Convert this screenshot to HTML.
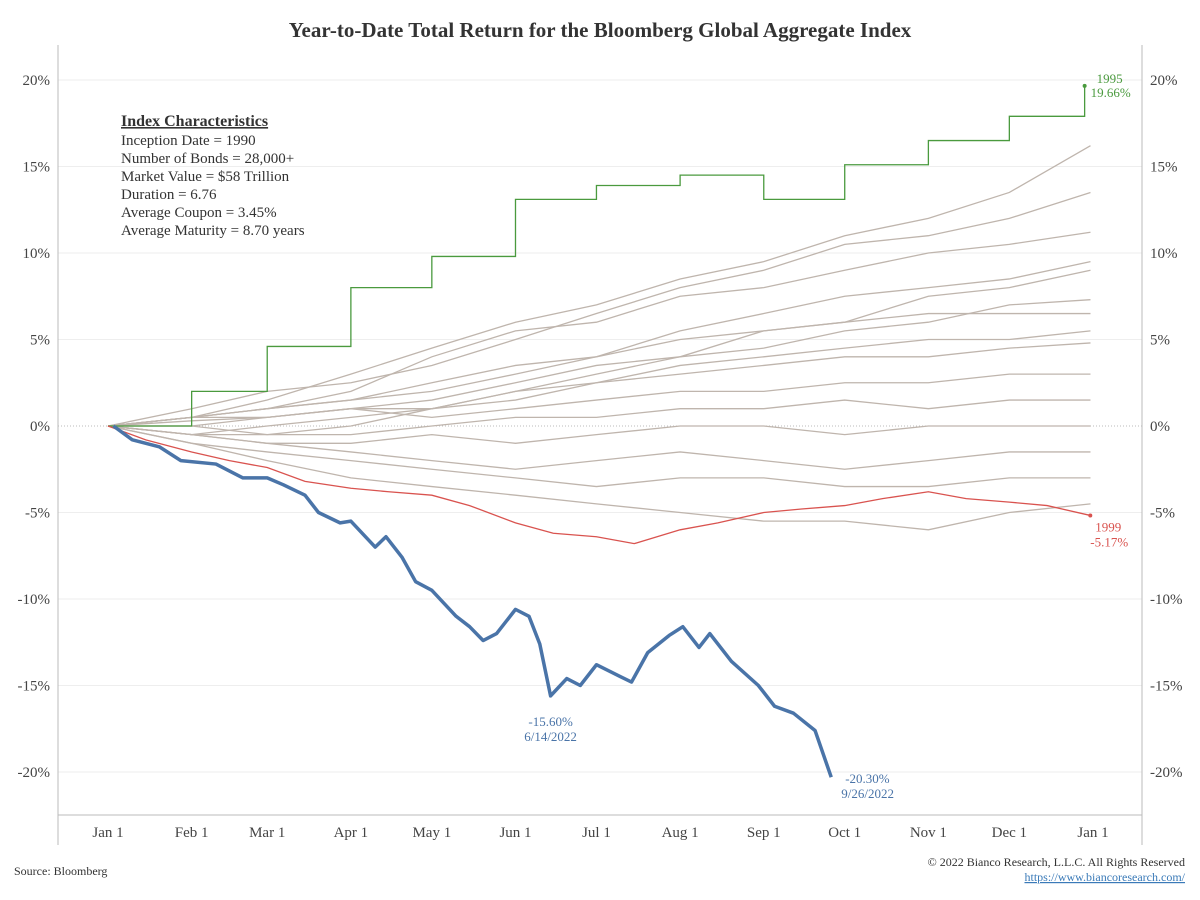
<!DOCTYPE html>
<html><head><meta charset="utf-8">
<style>
body{margin:0;background:#fff;}
svg{display:block;font-family:"Liberation Serif",serif;}
</style></head>
<body>
<svg id="chart" width="1200" height="900" viewBox="0 0 1200 900">
<text x="600" y="37" text-anchor="middle" font-size="21" font-weight="bold" fill="#333">Year-to-Date Total Return for the Bloomberg Global Aggregate Index</text>
<g id="grid"></g><g id="axes"></g><g id="series"></g>
<g font-size="15" fill="#333">
<text x="121" y="126" font-weight="bold" font-size="16" text-decoration="underline">Index Characteristics</text>
<text x="121" y="145">Inception Date = 1990</text>
<text x="121" y="163">Number of Bonds = 28,000+</text>
<text x="121" y="181">Market Value = $58 Trillion</text>
<text x="121" y="199">Duration = 6.76</text>
<text x="121" y="217">Average Coupon = 3.45%</text>
<text x="121" y="235">Average Maturity = 8.70 years</text>
</g>
<text x="14" y="875" font-size="12" fill="#333">Source: Bloomberg</text>
<text x="1185" y="866" font-size="12" fill="#333" text-anchor="end">© 2022 Bianco Research, L.L.C. All Rights Reserved</text>
<text x="1185" y="881" font-size="12" fill="#3a7ab8" text-anchor="end" text-decoration="underline">https://www.biancoresearch.com/</text>
</svg>
<script>
const yTicks=[20,15,10,5,0,-5,-10,-15,-20];
const monthLabels=["Jan 1","Feb 1","Mar 1","Apr 1","May 1","Jun 1","Jul 1","Aug 1","Sep 1","Oct 1","Nov 1","Dec 1","Jan 1"];
const blueDates=["1/3","1/10","1/20","1/28","2/10","2/20","3/1","3/7","3/15","3/20","3/28","4/1","4/10","4/14","4/20","4/25","5/1","5/10","5/15","5/20","5/25","6/1","6/6","6/10","6/14","6/20","6/25","7/1","7/10","7/14","7/20","7/28","8/2","8/8","8/12","8/20","8/30","9/5","9/12","9/20","9/26"];
const blueVals=[0,-0.8,-1.2,-2,-2.2,-3,-3,-3.4,-4,-5,-5.6,-5.5,-7,-6.4,-7.6,-9,-9.5,-11,-11.6,-12.4,-12,-10.6,-11,-12.6,-15.6,-14.6,-15,-13.8,-14.5,-14.8,-13.1,-12.1,-11.6,-12.8,-12,-13.6,-15,-16.2,-16.6,-17.6,-20.3];
const greenMonths=[0,1,2,3,4,5,6,7,8,9,10,11,11.9];
const greenVals=[0,2.0,4.6,8.0,9.8,13.1,13.9,14.5,13.1,15.1,16.5,17.9,19.66];
const redDates=["1/1","1/15","2/1","2/15","3/1","3/15","4/1","4/15","5/1","5/15","6/1","6/15","7/1","7/15","8/1","8/15","9/1","9/15","10/1","10/15","11/1","11/15","12/1","12/15","12/31"];
const redVals=[0,-0.8,-1.5,-2,-2.4,-3.2,-3.6,-3.8,-4,-4.6,-5.6,-6.2,-6.4,-6.8,-6,-5.6,-5,-4.8,-4.6,-4.2,-3.8,-4.2,-4.4,-4.6,-5.17];
const grayA=[0,0.5,1.5,3,4.5,6,7,8.5,9.5,11,12,13.5,16.2];
const grayB=[0,1,2,2.5,3.5,5,6.5,8,9,10.5,11,12,13.5];
const grayC=[0,0.5,1,2,4,5.5,6,7.5,8,9,10,10.5,11.2];
const grayD=[0,0.5,1,1.5,2,3,4,5.5,6.5,7.5,8,8.5,9.5];
const grayE=[0,0.3,0.5,1,1.5,2.5,3.5,4,5.5,6,7.5,8,9];
const grayF=[0,-0.5,0,0.5,1,2,3,4,4.5,5.5,6,7,7.3];
const grayG=[0,0.5,1,1.5,2.5,3.5,4,5,5.5,6,6.5,6.5,6.5];
const grayH=[0,-0.5,-0.5,0,1,1.5,2.5,3.5,4,4.5,5,5,5.5];
const grayI=[0,0,0.5,1,1,2,2.5,3,3.5,4,4,4.5,4.8];
const grayJ=[0,0.5,0.5,1,0.5,1,1.5,2,2,2.5,2.5,3,3];
const grayK=[0,0,-0.5,-0.5,0,0.5,0.5,1,1,1.5,1,1.5,1.5];
const grayL=[0,-0.5,-1,-1,-0.5,-1,-0.5,0,0,-0.5,0,0,0];
const grayM=[0,-0.5,-1,-1.5,-2,-2.5,-2,-1.5,-2,-2.5,-2,-1.5,-1.5];
const grayN=[0,-1,-1.5,-2,-2.5,-3,-3.5,-3,-3,-3.5,-3.5,-3,-3];
const grayO=[0,-1,-2,-3,-3.5,-4,-4.5,-5,-5.5,-5.5,-6,-5,-4.5];
const grays=[grayA,grayB,grayC,grayD,grayE,grayF,grayG,grayH,grayI,grayJ,grayK,grayL,grayM,grayN,grayO];

const NS="http://www.w3.org/2000/svg";
const X0=108,DAYPX=985/365,Y0=426,PPCT=17.3;
const cum=[0,31,59,90,120,151,181,212,243,273,304,334,365];
function xDay(d){return X0+d*DAYPX;}
function xDate(s){const [m,d]=s.split("/").map(Number);return xDay(cum[m-1]+d-1);}
function xMonth(mi){const i=Math.floor(mi);const f=mi-i;return xDay(cum[i]+f*((cum[i+1]||365)-cum[i]));}
function y(v){return Y0-v*PPCT;}
function mk(tag,attrs,parent){const e=document.createElementNS(NS,tag);for(const k in attrs)e.setAttribute(k,attrs[k]);parent.appendChild(e);return e;}
const grid=document.getElementById("grid"),axes=document.getElementById("axes"),ser=document.getElementById("series");

yTicks.forEach(t=>{
  const l=mk("line",{x1:58,x2:1142,y1:y(t),y2:y(t),stroke:t===0?"#bbb":"#eee","stroke-dasharray":t===0?"1,2":"none"},grid);
  
  
  const a=mk("text",{x:50,y:y(t)+5,"text-anchor":"end","font-size":15,fill:"#444"},axes);a.textContent=t+"%";
  
  
  const b=mk("text",{x:1150,y:y(t)+5,"font-size":15,fill:"#444"},axes);b.textContent=t+"%";
  
  
});
[[58,45,58,845],[1142,45,1142,845],[58,815,1142,815]].forEach(c=>{
  const l=mk("line",{x1:c[0],y1:c[1],x2:c[2],y2:c[3],stroke:"#bbb"},axes);
  
  
});
monthLabels.forEach((m,i)=>{
  const t=mk("text",{x:xMonth(i),y:837,"text-anchor":"middle","font-size":15,fill:"#444"},axes);t.textContent=m;
  
  
});
grays.forEach(g=>{
  const p=mk("polyline",{points:g.map((v,i)=>xMonth(i===12?11.97:i)+","+y(v)).join(" "),fill:"none",stroke:"#bfb5ad","stroke-width":1.3},ser);
  
  
});
// green step
let gp=[];greenVals.forEach((v,i)=>{const x=xMonth(greenMonths[i]);if(i>0)gp.push(x+","+y(greenVals[i-1]));gp.push(x+","+y(v));});
const gl=mk("polyline",{points:gp.join(" "),fill:"none",stroke:"#4a9a3e","stroke-width":1.3},ser);


const rl=mk("polyline",{points:redDates.map((d,i)=>xDate(d)+","+y(redVals[i])).join(" "),fill:"none",stroke:"#d9534f","stroke-width":1.3},ser);


const bl=mk("polyline",{points:blueDates.map((d,i)=>xDate(d)+","+y(blueVals[i])).join(" "),fill:"none",stroke:"#4a74a8","stroke-width":3.5,"stroke-linejoin":"round"},ser);


function lab(x,yy,txt,col,anchor,name){const t=mk("text",{x:x,y:yy,"font-size":13,fill:col,"text-anchor":anchor||"start"},ser);t.textContent=txt;}
const gx=xMonth(11.9),gy=y(greenVals[greenVals.length-1]);
mk("circle",{cx:gx,cy:gy,r:2,fill:"#4a9a3e"},ser);
lab(gx+12,gy-3,"1995","#4a9a3e","start","label-1995-year");
lab(gx+6,gy+11,"19.66%","#4a9a3e","start","label-1995-value");
const rx=xDate("12/31"),ry=y(redVals[redVals.length-1]);
mk("circle",{cx:rx,cy:ry,r:2,fill:"#d9534f"},ser);
lab(rx+5,ry+16,"1999","#d9534f","start","label-1999-year");
lab(rx,ry+31,"-5.17%","#d9534f","start","label-1999-value");
const bmi=blueVals.indexOf(Math.min(...blueVals.slice(0,30)));
lab(xDate("6/14"),y(-15.6)+30,"-15.60%","#4a74a8","middle","label-june-low-value");
lab(xDate("6/14"),y(-15.6)+45,"6/14/2022","#4a74a8","middle","label-june-low-date");
lab(xDate("9/26")+14,y(-20.3)+6,"-20.30%","#4a74a8","start","label-latest-value");
lab(xDate("9/26")+10,y(-20.3)+21,"9/26/2022","#4a74a8","start","label-latest-date");
</script>
</body></html>
